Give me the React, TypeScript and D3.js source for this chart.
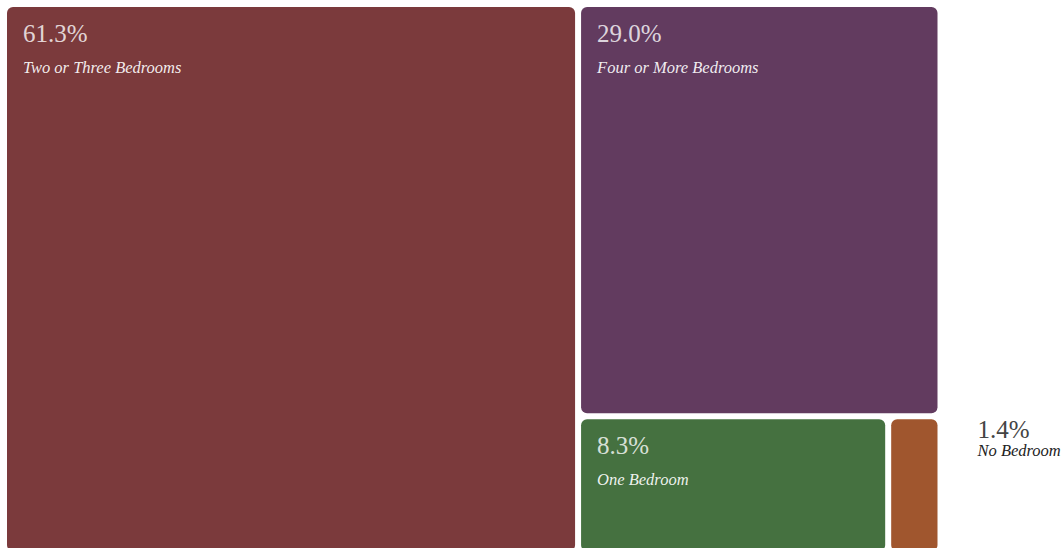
import React from "react";
import * as d3 from "d3";

const categories = ["Two or Three Bedrooms", "Four or More Bedrooms", "One Bedroom", "No Bedroom"];
const shares = [61.3, 29.0, 8.3, 1.4];
const colors = ["#7b3a3c", "#623b5f", "#457140", "#a0562e"];

const W = 1061;
const H = 548;
const left = 7;
const top = 7;
const mapW = 930.5;
const mapH = 544;

export default function App() {
  const data = categories.map((name, i) => ({ name, value: shares[i], color: colors[i] }));
  const root = d3
    .hierarchy({ name: "root", children: data } as any)
    .sum((d: any) => d.value || 0)
    .sort((a, b) => (b.value || 0) - (a.value || 0));
  d3.treemap().tile(d3.treemapSquarify).size([mapW, mapH]).paddingInner(6).round(false)(root as any);
  const leaves = (root as any).leaves();

  return (
    <svg
      width={W}
      height={H}
      style={{ position: "absolute", left: 0, top: 0, display: "block" }}
      fontFamily="'Liberation Serif', serif"
    >
      <g transform={`translate(${left},${top})`}>
        {leaves.map((n: any, i: number) => {
          const w = n.x1 - n.x0;
          const h = n.y1 - n.y0;
          const inside = w > 120;
          return (
            <g key={i}>
              <rect x={n.x0} y={n.y0} width={w} height={h} rx={6} ry={6} fill={n.data.color} />
              {inside ? (
                <g>
                  <text x={n.x0 + 16} y={n.y0 + 35} fontSize={25} fill="#fff" fillOpacity={0.8} fontWeight={300}>
                    {n.data.value.toFixed(1)}%
                  </text>
                  <text x={n.x0 + 16} y={n.y0 + 66} fontSize={16.5} fontStyle="italic" fill="#fff" fillOpacity={0.92}>
                    {n.data.name}
                  </text>
                </g>
              ) : (
                <g>
                  <text x={n.x1 + 40} y={n.y0 + 19} fontSize={25} fill="#444" fontWeight={300}>
                    {n.data.value.toFixed(1)}%
                  </text>
                  <text x={n.x1 + 40} y={n.y0 + 37} fontSize={16.5} fontStyle="italic" fill="#222">
                    {n.data.name}
                  </text>
                </g>
              )}
            </g>
          );
        })}
      </g>
    </svg>
  );
}
